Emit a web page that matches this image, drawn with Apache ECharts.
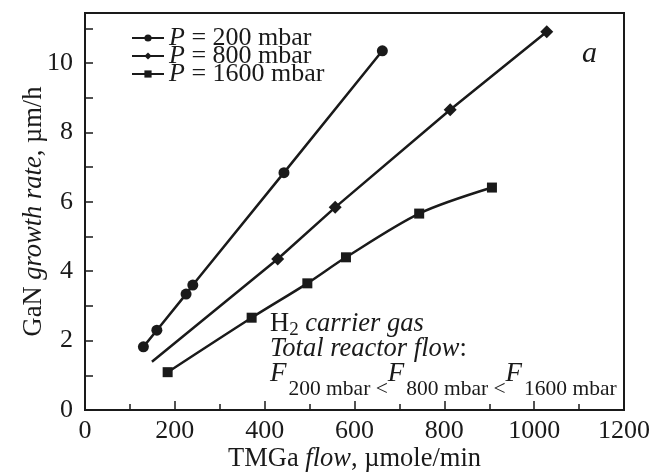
<!DOCTYPE html>
<html>
<head>
<meta charset="utf-8">
<script src="https://cdn.jsdelivr.net/npm/echarts@6/dist/echarts.min.js"></script>
<style>
    html, body { margin: 0; padding: 0; background: #fff; }
    #chart { width: 656px; height: 474px; }
</style>
</head>
<body>
<div id="chart"></div>
<script>
const seriesNames = ["200 mbar", "800 mbar", "1600 mbar"]
// TMGa flow (µmole/min) and growth rate (µm/h)
const flow200 = [130, 160, 225, 240, 443, 662]
const rate200 = [1.82, 2.3, 3.34, 3.6, 6.84, 10.35]
const flow800 = [149, 429, 557, 813, 1028]
const rate800 = [1.39, 4.35, 5.84, 8.65, 10.9]
const flow1600 = [184, 371, 495, 581, 744, 906]
const rate1600 = [1.09, 2.66, 3.65, 4.4, 5.66, 6.41]

const font = "Liberation Serif"
const ink = "#1a1a1a"

function pairs(xs, ys) {
    return xs.map((x, i) => [x, ys[i]])
}

let myChart = echarts.init(document.getElementById("chart"))

const data800 = pairs(flow800, rate800)
data800[0] = { value: data800[0], symbol: "none" } // line starts without a marker

myChart.setOption({
    animation: false,
    backgroundColor: "#fff",
    textStyle: { fontFamily: font, color: ink },
    grid: {
        left: 85, right: 32, top: 13, bottom: 64,
        outerBoundsMode: "none",
        containLabel: false,
        show: true,
        borderColor: ink,
        borderWidth: 2
    },
    legend: {
        orient: "vertical",
        left: 126,
        top: 20,
        itemWidth: 32,
        itemHeight: 9,
        itemGap: -8,
        textStyle: {
            fontFamily: font, fontSize: 26, color: ink, lineHeight: 18,
            rich: { i: { fontFamily: font, fontSize: 26, fontStyle: "italic", color: ink, lineHeight: 18 } }
        },
        formatter: name => "{i|P} = " + name
    },
    xAxis: {
        type: "value",
        min: 0, max: 1200, interval: 200,
        name: "TMGa {i|flow}, µmole/min",
        nameLocation: "middle",
        nameMoveOverlap: false,
        nameGap: 36,
        nameTextStyle: {
            fontFamily: font, fontSize: 26.5, color: ink,
            rich: { i: { fontFamily: font, fontSize: 26.5, fontStyle: "italic", color: ink } }
        },
        axisLine: { lineStyle: { color: ink, width: 2 } },
        axisTick: { inside: true, length: 9, lineStyle: { color: ink, width: 1.5 } },
        minorTick: { show: true, splitNumber: 2, length: 6, lineStyle: { color: ink, width: 1.5 } },
        axisLabel: { fontFamily: font, fontSize: 26, color: ink, margin: 8, formatter: v => String(v) },
        splitLine: { show: false }
    },
    yAxis: {
        type: "value",
        min: 0, max: 11.44, interval: 1,
        name: "GaN {i|growth rate}, µm/h",
        nameLocation: "middle",
        nameMoveOverlap: false,
        nameGap: 37,
        nameTextStyle: {
            fontFamily: font, fontSize: 26.5, color: ink,
            rich: { i: { fontFamily: font, fontSize: 26.5, fontStyle: "italic", color: ink } }
        },
        axisLine: { lineStyle: { color: ink, width: 2 } },
        axisTick: { inside: true, length: 8, lineStyle: { color: ink, width: 1.5 } },
        axisLabel: {
            fontFamily: font, fontSize: 26, color: ink, margin: 12,
            showMaxLabel: false,
            formatter: v => (v % 2 === 0 ? String(v) : "")
        },
        splitLine: { show: false }
    },
    graphic: [
        {
            type: "text", left: 582, top: 39,
            style: { text: "a", font: "italic 30px " + font, fill: ink }
        },
        {
            type: "text", left: 270, top: 309,
            style: {
                text: "{r|H}{s|2}{i| carrier gas}\n{i|Total reactor flow}{r|:}",
                rich: {
                    r: { fontFamily: font, fontSize: 26.5, fill: ink, lineHeight: 25 },
                    i: { fontFamily: font, fontSize: 26.5, fontStyle: "italic", fill: ink, lineHeight: 25 },
                    s: { fontFamily: font, fontSize: 19, fill: ink, lineHeight: 19, padding: [12, 0, 0, 0] }
                }
            }
        },
        {
            type: "text", left: 270, top: 348,
            style: {
                text: "{f|F}{s|200 mbar <}{f|F}{s|800 mbar <}{f|F}{s|1600 mbar}",
                rich: {
                    f: { fontFamily: font, fontSize: 27, fontStyle: "italic", fill: ink, lineHeight: 27 },
                    s: { fontFamily: font, fontSize: 21.5, fill: ink, lineHeight: 21, padding: [30, 0, 0, 2] }
                }
            }
        }
    ],
    series: [
        {
            name: seriesNames[0],
            type: "line",
            data: pairs(flow200, rate200),
            symbol: "circle",
            symbolSize: 11,
            lineStyle: { color: ink, width: 2.5 },
            itemStyle: { color: ink }
        },
        {
            name: seriesNames[1],
            type: "line",
            data: data800,
            symbol: "diamond",
            symbolSize: 13,
            lineStyle: { color: ink, width: 2.5 },
            itemStyle: { color: ink }
        },
        {
            name: seriesNames[2],
            type: "line",
            data: pairs(flow1600, rate1600),
            smooth: 0.3,
            symbol: "rect",
            symbolSize: 10,
            lineStyle: { color: ink, width: 2.5 },
            itemStyle: { color: ink }
        }
    ]
})
</script>
</body>
</html>
